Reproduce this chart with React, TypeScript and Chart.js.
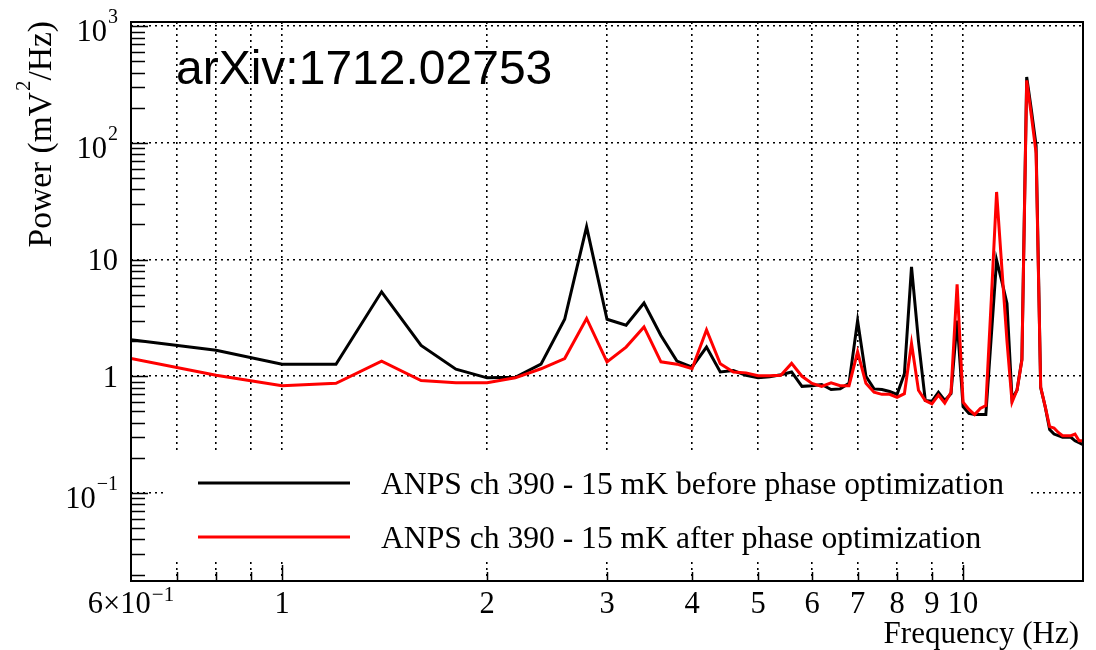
import React, { useEffect, useRef } from "react";
import { Chart, registerables } from "chart.js";

Chart.register(...registerables);

// ---------- data ----------
const FREQ = [
  0.6, 0.8, 1.0, 1.2, 1.4, 1.6, 1.8, 2.0, 2.2, 2.4, 2.6, 2.8, 3.0, 3.2, 3.4, 3.6, 3.8, 4.0,
  4.2, 4.4, 4.6, 4.8, 5.0, 5.2, 5.4, 5.6, 5.8, 6.0, 6.2, 6.4, 6.6, 6.8, 7.0, 7.2, 7.4, 7.6,
  7.8, 8.0, 8.2, 8.4, 8.6, 8.8, 9.0, 9.2, 9.4, 9.6, 9.8, 10.0, 10.2, 10.4, 10.6, 10.8, 11.0,
  11.2, 11.4, 11.6, 11.8, 12.0, 12.2, 12.4, 12.6, 12.8, 13.0, 13.2, 13.4, 13.6, 13.8, 14.0,
  14.2, 14.4, 14.6, 14.8, 15.0,
];

const BEFORE = [
  2.06, 1.67, 1.27, 1.27, 5.3, 1.84, 1.15, 0.97, 0.98, 1.27, 3.08, 19.1, 3.08, 2.74, 4.25, 2.24, 1.35, 1.2,
  1.78, 1.09, 1.12, 1.02, 0.97, 0.99, 1.03, 1.09, 0.82, 0.83, 0.85, 0.77, 0.78, 0.87, 3.0, 1.0, 0.78, 0.77,
  0.74, 0.7, 1.05, 8.66, 2.0, 0.62, 0.61, 0.73, 0.62, 0.71, 3.0, 0.55, 0.48, 0.47, 0.47, 0.47, 2.2,
  9.9, 6.5, 4.2, 0.64, 0.76, 1.4, 367, 190, 95, 0.8, 0.55, 0.35, 0.32, 0.31, 0.3,
  0.3, 0.3, 0.28, 0.27, 0.26,
];

const AFTER = [
  1.42, 1.02, 0.83, 0.87, 1.35, 0.92, 0.88, 0.88, 0.97, 1.16, 1.42, 3.13, 1.33, 1.78, 2.65, 1.33, 1.27, 1.16,
  2.5, 1.28, 1.09, 1.07, 1.01, 1.01, 1.02, 1.29, 1.0, 0.87, 0.82, 0.88, 0.83, 0.83, 1.62, 0.87, 0.73, 0.7,
  0.7, 0.66, 0.71, 1.91, 0.76, 0.62, 0.58, 0.69, 0.59, 0.73, 6.15, 0.6, 0.52, 0.47, 0.53, 0.56, 4.5,
  38, 8.5, 2.0, 0.6, 0.76, 1.37, 344, 170, 82, 0.81, 0.55, 0.37, 0.36, 0.33, 0.31,
  0.31, 0.31, 0.32, 0.28, 0.28,
];

const X_MIN = 0.6;
const X_MAX = 15;
const Y_MIN = 0.0176;
const Y_MAX = 1088;

const X_GRID = [0.7, 0.8, 0.9, 1, 2, 3, 4, 5, 6, 7, 8, 9, 10];
const X_MAJOR = [1, 10];
const Y_GRID = [0.1, 1, 10, 100, 1000];

const X_LABELS = [
  { v: 0.6, base: "6×10", sup: "−1" },
  { v: 1, base: "1" },
  { v: 2, base: "2" },
  { v: 3, base: "3" },
  { v: 4, base: "4" },
  { v: 5, base: "5" },
  { v: 6, base: "6" },
  { v: 7, base: "7" },
  { v: 8, base: "8" },
  { v: 9, base: "9" },
  { v: 10, base: "10" },
];

const Y_LABELS = [
  { v: 1000, base: "10", sup: "3" },
  { v: 100, base: "10", sup: "2" },
  { v: 10, base: "10" },
  { v: 1, base: "1" },
  { v: 0.1, base: "10", sup: "−1" },
];

const SERIES_NAMES = [
  "ANPS ch 390 - 15 mK before phase optimization",
  "ANPS ch 390 - 15 mK after phase optimization",
];
const SERIES_COLORS = ["#000000", "#ff0000"];
const X_TITLE = "Frequency (Hz)";
const Y_TITLE = [{ t: "Power (mV" }, { t: "2", sup: true }, { t: "/Hz)" }];
const WATERMARK = "arXiv:1712.02753";

// ---------- helpers ----------
const SERIF = '"Liberation Serif", "Times New Roman", Times, serif';
const SANS = '"Liberation Sans", Arial, Helvetica, sans-serif';

type Part = { t: string; sup?: boolean };

function drawRich(
  ctx: CanvasRenderingContext2D,
  parts: Part[],
  x: number,
  y: number,
  align: "left" | "center" | "right",
  baseSize: number,
  supSize: number,
  rise: number
) {
  const widths = parts.map((p) => {
    ctx.font = `${p.sup ? supSize : baseSize}px ${SERIF}`;
    return ctx.measureText(p.t).width + (p.sup ? 1 : 0);
  });
  const total = widths.reduce((a, b) => a + b, 0);
  let cx = align === "right" ? x - total : align === "center" ? x - total / 2 : x;
  ctx.textAlign = "left";
  ctx.textBaseline = "alphabetic";
  parts.forEach((p, i) => {
    ctx.font = `${p.sup ? supSize : baseSize}px ${SERIF}`;
    ctx.fillText(p.t, cx + (p.sup ? 1 : 0), p.sup ? y - rise : y);
    cx += widths[i];
  });
}

const overlayPlugin = {
  id: "rootStyleOverlay",
  afterDatasetsDraw(chart: any) {
    const ctx: CanvasRenderingContext2D = chart.ctx;
    const ca = chart.chartArea;
    const xs = chart.scales.x;
    const ys = chart.scales.y;
    ctx.save();

    // legend box (white, borderless)
    ctx.fillStyle = "#ffffff";
    ctx.fillRect(163, 451, 1028 - 163, 562 - 451);
    SERIES_NAMES.forEach((name, i) => {
      const ly = 483 + i * 54;
      ctx.strokeStyle = SERIES_COLORS[i];
      ctx.lineWidth = 3;
      ctx.setLineDash([]);
      ctx.beginPath();
      ctx.moveTo(198, ly);
      ctx.lineTo(350, ly);
      ctx.stroke();
      ctx.fillStyle = "#000";
      ctx.font = `31.6px ${SERIF}`;
      ctx.textAlign = "left";
      ctx.textBaseline = "alphabetic";
      ctx.fillText(name, 381, ly + 11);
    });

    // ticks
    ctx.strokeStyle = "#000";
    ctx.lineWidth = 1.5;
    ctx.beginPath();
    for (let d = -2; d <= 3; d++) {
      for (let k = 1; k <= 9; k++) {
        const v = k * Math.pow(10, d);
        if (v < Y_MIN || v > Y_MAX) continue;
        const py = Math.round(ys.getPixelForValue(v)) + 0.5;
        const len = k === 1 ? 17 : 14;
        ctx.moveTo(ca.left, py);
        ctx.lineTo(ca.left + len, py);
      }
    }
    X_GRID.forEach((v) => {
      const px = Math.round(xs.getPixelForValue(v)) + 0.5;
      const len = X_MAJOR.includes(v) ? 16 : 9;
      ctx.moveTo(px, ca.bottom);
      ctx.lineTo(px, ca.bottom - len);
    });
    ctx.stroke();

    // frame
    ctx.lineWidth = 2;
    ctx.strokeRect(ca.left, ca.top, ca.right - ca.left, ca.bottom - ca.top);

    // tick labels
    ctx.fillStyle = "#000";
    Y_LABELS.forEach((l) => {
      const py = ys.getPixelForValue(l.v);
      const parts: Part[] = [{ t: l.base }];
      if (l.sup) parts.push({ t: l.sup, sup: true });
      drawRich(ctx, parts, 118, py + (l.sup ? 15 : 10.5), "right", 30.5, 20, 18);
    });
    X_LABELS.forEach((l) => {
      const px = xs.getPixelForValue(l.v);
      const parts: Part[] = [{ t: l.base }];
      if (l.sup) parts.push({ t: l.sup, sup: true });
      drawRich(ctx, parts, px, 613, "center", 30.5, 21, 12);
    });

    // axis titles
    drawRich(ctx, [{ t: X_TITLE }], 1079, 643, "right", 31, 20, 12);
    ctx.save();
    ctx.translate(51, 21);
    ctx.rotate(-Math.PI / 2);
    drawRich(ctx, Y_TITLE, 0, 0, "right", 33.5, 21, 21);
    ctx.restore();

    // watermark
    ctx.font = `48px ${SANS}`;
    ctx.textAlign = "left";
    ctx.textBaseline = "alphabetic";
    ctx.fillText(WATERMARK, 176, 84);

    ctx.restore();
  },
};

export default function App() {
  const canvasRef = useRef<HTMLCanvasElement | null>(null);

  useEffect(() => {
    const canvas = canvasRef.current;
    if (!canvas) return;
    const chart = new Chart(canvas, {
      type: "line",
      data: {
        datasets: [
          {
            label: SERIES_NAMES[0],
            data: FREQ.map((f, i) => ({ x: f, y: BEFORE[i] })),
            borderColor: SERIES_COLORS[0],
            backgroundColor: SERIES_COLORS[0],
            borderWidth: 3,
            pointRadius: 0,
            tension: 0,
            order: 2,
          },
          {
            label: SERIES_NAMES[1],
            data: FREQ.map((f, i) => ({ x: f, y: AFTER[i] })),
            borderColor: SERIES_COLORS[1],
            backgroundColor: SERIES_COLORS[1],
            borderWidth: 3,
            pointRadius: 0,
            tension: 0,
            order: 1,
          },
        ],
      },
      options: {
        responsive: false,
        devicePixelRatio: 1,
        animation: false,
        events: [],
        layout: { padding: { left: 131, top: 22, right: 13, bottom: 69 } },
        plugins: { legend: { display: false }, tooltip: { enabled: false } },
        scales: {
          x: {
            type: "logarithmic",
            min: X_MIN,
            max: X_MAX,
            afterBuildTicks: (axis: any) => {
              axis.ticks = X_GRID.map((v) => ({ value: v }));
            },
            ticks: { display: false },
            grid: { color: "#000", lineWidth: 1.6, drawTicks: false },
            border: { display: false, dash: [2, 4] },
          },
          y: {
            type: "logarithmic",
            min: Y_MIN,
            max: Y_MAX,
            afterBuildTicks: (axis: any) => {
              axis.ticks = Y_GRID.map((v) => ({ value: v }));
            },
            ticks: { display: false },
            grid: { color: "#000", lineWidth: 1.6, drawTicks: false },
            border: { display: false, dash: [2, 4] },
          },
        },
      },
      plugins: [overlayPlugin],
    } as any);
    return () => chart.destroy();
  }, []);

  return (
    <div style={{ position: "absolute", left: 0, top: 0, width: 1096, height: 650, background: "#fff" }}>
      <canvas ref={canvasRef} width={1096} height={650} style={{ display: "block" }} />
    </div>
  );
}
